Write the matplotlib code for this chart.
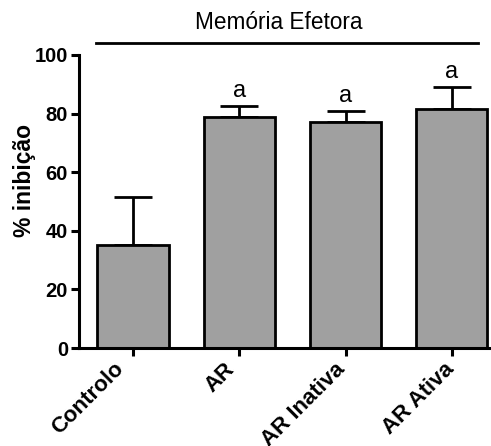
import numpy as np
import matplotlib
matplotlib.use("Agg")
import matplotlib.pyplot as plt

plt.rcParams["font.family"] = ["Liberation Sans", "DejaVu Sans"]

grupos = ["Controlo", "AR", "AR Inativa", "AR Ativa"]
inibicao = [35.3, 78.9, 77.0, 81.6]
erro = [16.2, 3.8, 4.0, 7.6]
letras = ["", "a", "a", "a"]

fig = plt.figure(figsize=(4.91, 4.46), dpi=100)
ax = fig.add_axes([79 / 491, 1 - 348 / 446, 410 / 491, 293 / 446])

x = np.arange(len(grupos))
ax.bar(x, inibicao, width=0.67, color="#a0a0a0", edgecolor="black", linewidth=2.0, zorder=2)
ax.errorbar(x, inibicao, yerr=[np.zeros(len(erro)), erro], fmt="none",
            ecolor="black", elinewidth=2.0, capsize=13.5, capthick=2.0, zorder=1)

# lettres de significance au-dessus des barres d'erreur
for xi, v, e, t in zip(x, inibicao, erro, letras):
    if t:
        ax.annotate(t, (xi, v + e), xytext=(0, 6.5), textcoords="offset points",
                    ha="center", va="baseline", fontsize=17)

ax.set_xlim(-0.508, 3.35)
ax.set_ylim(0, 100)
ax.set_yticks([0, 20, 40, 60, 80, 100])
ax.set_xticks(x)
ax.set_xticklabels([])

# étiquettes inclinées posées à la main (décalage en points sous chaque tick)
decal_pt = [-14, -11, -8, -6]
for xi, nom, dx in zip(x, grupos, decal_pt):
    ax.annotate(nom, (xi, 0), xycoords=("data", "axes fraction"),
                xytext=(dx, -7.5), textcoords="offset points",
                rotation=45, ha="right", va="top", rotation_mode="anchor",
                fontsize=16, fontweight="bold", annotation_clip=False)

for lab in ax.get_yticklabels():
    lab.set_fontweight("bold")
ax.tick_params(axis="y", labelsize=14.5, width=2.2, length=6, pad=2)
ax.tick_params(axis="x", width=2.2, length=6, pad=4)
ax.set_ylabel("% inibição", fontsize=16.5, fontweight="bold")
ax.yaxis.set_label_coords(-0.105, 0.57)

for s in ["top", "right"]:
    ax.spines[s].set_visible(False)
for s in ["left", "bottom"]:
    ax.spines[s].set_linewidth(2.2)

# trait et titre du groupe
ax.plot([-0.35, 3.25], [104.1, 104.1], color="black", linewidth=2.0, clip_on=False)
ax.text(1.37, 111.0, "Memória Efetora", ha="center", va="center", fontsize=16.3)

fig.savefig("out.png", dpi=100)
